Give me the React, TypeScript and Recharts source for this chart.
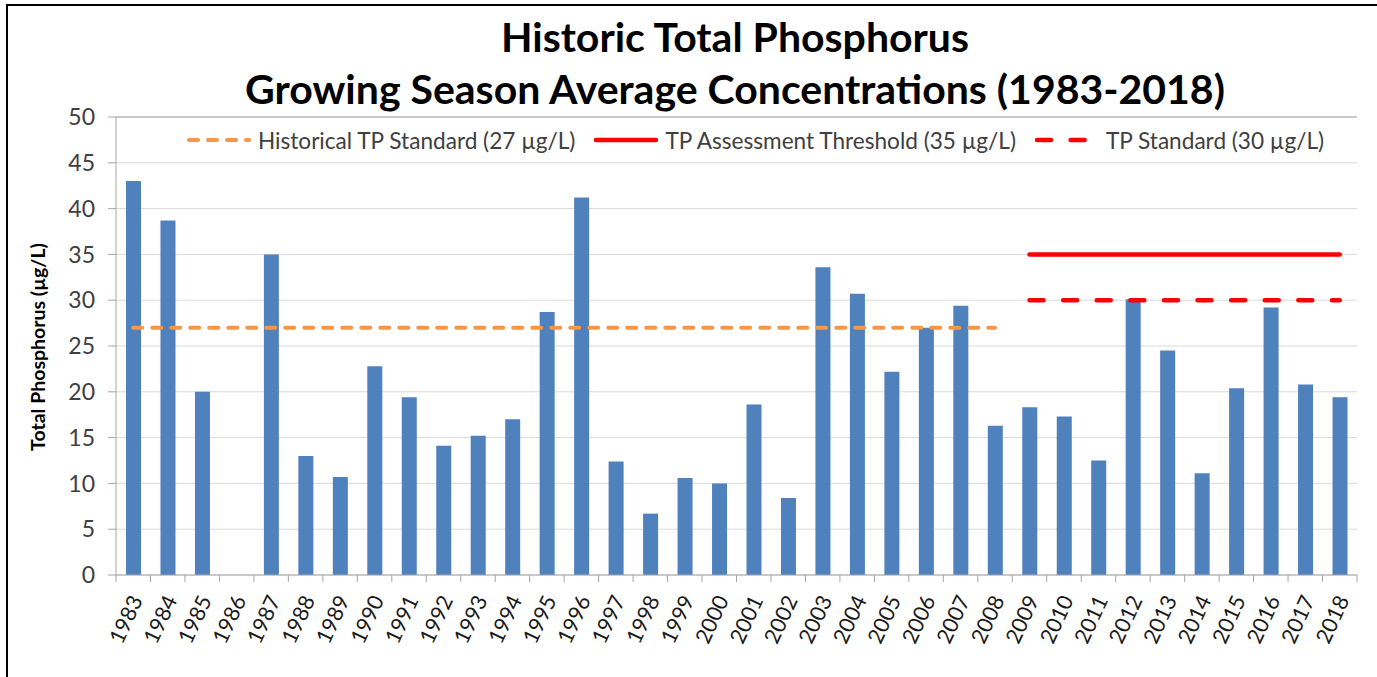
import React from 'react';
import { ComposedChart, Bar, Line, XAxis, YAxis, CartesianGrid, ReferenceLine } from 'recharts';

const years = [
  '1983', '1984', '1985', '1986', '1987', '1988', '1989', '1990', '1991', '1992', '1993', '1994',
  '1995', '1996', '1997', '1998', '1999', '2000', '2001', '2002', '2003', '2004', '2005', '2006',
  '2007', '2008', '2009', '2010', '2011', '2012', '2013', '2014', '2015', '2016', '2017', '2018',
];

const tpValues: (number | null)[] = [
  43.0, 38.7, 20.0, null, 35.0, 13.0, 10.7, 22.8, 19.4, 14.1, 15.2, 17.0,
  28.7, 41.2, 12.4, 6.7, 10.6, 10.0, 18.6, 8.4, 33.6, 30.7, 22.2, 27.0,
  29.4, 16.3, 18.3, 17.3, 12.5, 30.1, 24.5, 11.1, 20.4, 29.2, 20.8, 19.4,
];

const historicalStd: (number | null)[] = [
  27, 27, 27, 27, 27, 27, 27, 27, 27, 27, 27, 27,
  27, 27, 27, 27, 27, 27, 27, 27, 27, 27, 27, 27,
  27, 27, null, null, null, null, null, null, null, null, null, null,
];

const assessThreshold: (number | null)[] = [
  null, null, null, null, null, null, null, null, null, null, null, null,
  null, null, null, null, null, null, null, null, null, null, null, null,
  null, null, 35, 35, 35, 35, 35, 35, 35, 35, 35, 35,
];

const tpStandard: (number | null)[] = [
  null, null, null, null, null, null, null, null, null, null, null, null,
  null, null, null, null, null, null, null, null, null, null, null, null,
  null, null, 30, 30, 30, 30, 30, 30, 30, 30, 30, 30,
];

const yTicks = [0, 5, 10, 15, 20, 25, 30, 35, 40, 45, 50];

const legendItems = [
  { label: 'Historical TP Standard (27 µg/L)', color: '#f79646', dash: '9 10', width: 4 },
  { label: 'TP Assessment Threshold (35 µg/L)', color: '#ff0000', dash: undefined, width: 4.5 },
  { label: 'TP Standard (30 µg/L)', color: '#ff0000', dash: '14 19.6', width: 4.5 },
];

const data = years.map((year, i) => ({
  year,
  tp: tpValues[i],
  hist: historicalStd[i],
  assess: assessThreshold[i],
  std: tpStandard[i],
}));

const W = 1377;
const H = 677;
const Y_W = 116;
const RIGHT = 20;
const TOP = 117;
const X_H = 102;
const FONT = 'Lato, "Open Sans", sans-serif';
const BAND = (W - RIGHT - Y_W) / years.length;
const AXIS = '#a6a6a6';

function XTick(props: any) {
  const { x, y, payload } = props;
  const last = payload.value === years[years.length - 1];
  return (
    <g>
      <line x1={x - BAND / 2} x2={x - BAND / 2} y1={y} y2={y + 7} stroke={AXIS} strokeWidth={1} />
      {last && <line x1={x + BAND / 2} x2={x + BAND / 2} y1={y} y2={y + 7} stroke={AXIS} strokeWidth={1} />}
      <text
        transform={`translate(${x + 10},${y + 25}) rotate(-65)`}
        textAnchor="end"
        fontSize={21.5}
        fontFamily={FONT}
        fill="#1a1a1a"
      >
        {payload.value}
      </text>
    </g>
  );
}

export default function App() {
  return (
    <div style={{ position: 'absolute', left: 0, top: 0, width: W, height: H, background: '#fff', fontFamily: FONT }}>
      <ComposedChart
        width={W}
        height={H}
        data={data}
        margin={{ top: TOP, right: RIGHT, bottom: 0, left: 0 }}
        barCategoryGap={0}
      >
        <CartesianGrid vertical={false} stroke="#d9d9d9" strokeWidth={1} />
        <XAxis
          dataKey="year"
          height={X_H}
          interval={0}
          tickLine={false}
          tickSize={0}
          tickMargin={0}
          axisLine={{ stroke: AXIS }}
          tick={<XTick />}
        />
        <YAxis
          width={Y_W}
          domain={[0, 50]}
          ticks={yTicks}
          interval={0}
          tickSize={8}
          tickMargin={13}
          tickLine={{ stroke: AXIS }}
          axisLine={{ stroke: AXIS }}
          tick={{ fontSize: 23, fill: '#404040', fontFamily: FONT }}
        />
        <YAxis
          yAxisId="right"
          orientation="right"
          width={0}
          domain={[0, 50]}
          tick={false}
          tickLine={false}
          axisLine={{ stroke: AXIS }}
        />
        <ReferenceLine y={50} stroke={AXIS} strokeWidth={1} />
        <Bar dataKey="tp" fill="#4f81bd" barSize={15} isAnimationActive={false} />
        <Line
          dataKey="hist"
          stroke="#f79646"
          strokeWidth={4}
          strokeDasharray="9 10"
          strokeLinecap="round"
          dot={false}
          activeDot={false}
          isAnimationActive={false}
        />
        <Line
          dataKey="assess"
          stroke="#ff0000"
          strokeWidth={4.5}
          strokeLinecap="round"
          dot={false}
          activeDot={false}
          isAnimationActive={false}
        />
        <Line
          dataKey="std"
          stroke="#ff0000"
          strokeWidth={4.5}
          strokeDasharray="14 19.6"
          strokeLinecap="round"
          dot={false}
          activeDot={false}
          isAnimationActive={false}
        />
      </ComposedChart>

      <div
        style={{
          position: 'absolute',
          left: 186,
          top: 125,
          height: 30,
          display: 'flex',
          alignItems: 'center',
          whiteSpace: 'nowrap',
          fontSize: 22.6,
          color: '#404040',
          fontFamily: FONT,
        }}
      >
        {legendItems.map((it) => (
          <div key={it.label} style={{ display: 'flex', alignItems: 'center', marginRight: 18 }}>
            <svg width={66} height={10} style={{ marginRight: 6 }}>
              <line
                x1={3}
                x2={63}
                y1={5}
                y2={5}
                stroke={it.color}
                strokeWidth={it.width}
                strokeDasharray={it.dash}
                strokeLinecap="round"
              />
            </svg>
            <span>{it.label}</span>
          </div>
        ))}
      </div>

      <svg width={W} height={H} style={{ position: 'absolute', left: 0, top: 0, pointerEvents: 'none' }}>
        <line x1={6} x2={W} y1={5} y2={5} stroke="#000" strokeWidth={2} />
        <line x1={7} x2={7} y1={4} y2={H} stroke="#000" strokeWidth={2} />
        <text x={735} y={52} textAnchor="middle" fontSize={41} fontWeight={700} fontFamily={FONT} fill="#000">
          Historic Total Phosphorus
        </text>
        <text x={735} y={104} textAnchor="middle" fontSize={41} fontWeight={700} fontFamily={FONT} fill="#000">
          Growing Season Average Concentrations (1983-2018)
        </text>
        <text
          transform="translate(45,347) rotate(-90)"
          textAnchor="middle"
          fontSize={19.5}
          fontWeight={700}
          fontFamily={FONT}
          fill="#000"
        >
          Total Phosphorus (µg/L)
        </text>
      </svg>
    </div>
  );
}
